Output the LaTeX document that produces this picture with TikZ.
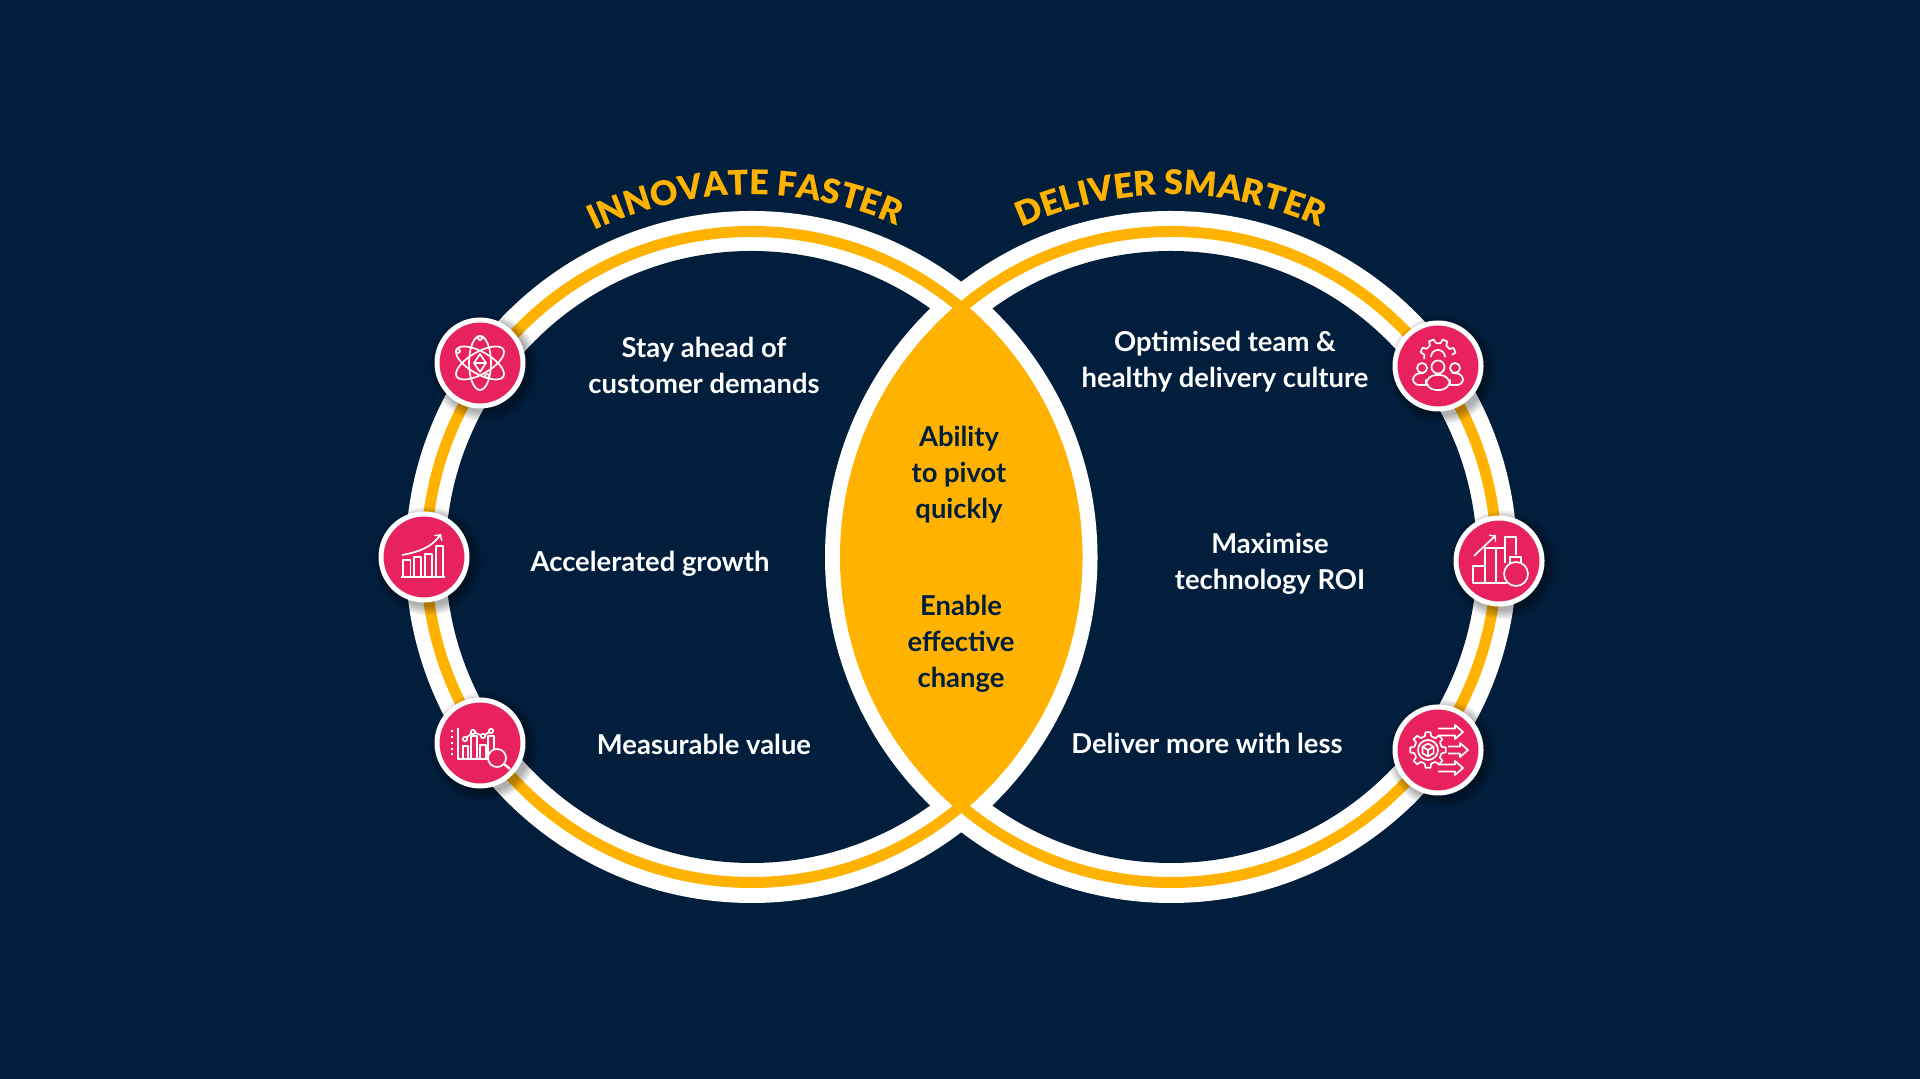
\documentclass[tikz,border=0pt]{standalone}
\usepackage{fontspec}
\usepackage{amsmath}
\usetikzlibrary{positioning,calc,decorations.text}
\setmainfont{Lato}
\newfontfamily\labelfont{Lato Bold}
\newfontfamily\headfont{Lato Black}
\definecolor{navy}{HTML}{011E3C}
\definecolor{gold}{HTML}{FFB200}
\definecolor{rose}{HTML}{E8215F}
\tikzset{
    badge/.style={circle,fill=rose,draw=white,line width=2.5pt,minimum size=43pt},
    caption/.style={text=white,align=center,font=\labelfont\fontsize{13.7}{18}\selectfont},
    lenstext/.style={text=navy,align=center,font=\labelfont\fontsize{13.7}{18}\selectfont},
    icon/.style={white,line width=.85pt,line join=round},
}
\begin{document}
\begin{tikzpicture}[
    x=.5pt,y=.5pt,
    every node/.style={inner sep=0}
]
\fill[navy] (0,0) rectangle (1920,1079);
\coordinate (left) at (751.5,522);
\coordinate (right) at (1171,522);
% rings
\fill[white] (left) circle (346) (right) circle (346);
\fill[navy] (left) circle (306) (right) circle (306);
\begin{scope}
    \clip (left) circle (346);
    \fill[white] (right) circle (346);
\end{scope}
\draw[gold,line width=5.5pt] (left) circle (325.5) (right) circle (325.5);
\begin{scope}
    \clip (left) circle (330.5);
    \fill[gold] (right) circle (330.5);
\end{scope}
% headings
\path[decorate,decoration={text along path,text align=center,
    text={|\color{gold}\headfont\fontsize{17}{20}\selectfont|INNOVATE FASTER}}]
    ($(left)+(138:362)$) arc (138:44:362);
\path[decorate,decoration={text along path,text align=center,
    text={|\color{gold}\headfont\fontsize{17}{20}\selectfont|DELIVER SMARTER}}]
    ($(right)+(137:362)$) arc (137:43:362);
% badges
\foreach \n/\x/\y in {1/480/716,2/424/522,3/480/336,4/1438/713,5/1499/518,6/1438/329}{
    \foreach \r in {46,48,...,54}
        \fill[black,opacity=.07] (\x+4,\y-4) circle (\r);
    \node[badge] (badge\n) at (\x,\y) {};
}
% left labels
\node[caption] (demands) at (704,714) {Stay ahead of\\customer demands};
\node[caption] (growth) at (650,515) {Accelerated growth};
\node[caption] (value) at (704,335) {Measurable value};
% right labels
\node[caption] (culture) at (1225,717) {Optimised team \&\\healthy delivery culture};
\node[caption] (roi) at (1270,515) {Maximise\\technology ROI};
\node[caption] (less) at (1207,336) {Deliver more with less};
% lens
\node[lenstext] (pivot) at (959,604) {Ability\\to pivot\\quickly};
\node[lenstext,below=35.5pt of pivot,xshift=1pt] (change) {Enable\\effective\\change};
% atom
\begin{scope}[shift={(badge1)},icon]
    \draw[rotate=30] (0,0) ellipse (27 and 11);
    \draw[rotate=90] (0,0) ellipse (27 and 11);
    \draw[rotate=150] (0,0) ellipse (27 and 11);
    \draw (0,9) -- (6,0) -- (0,-9) -- (-6,0) -- cycle (-6,0) -- (6,0);
    \foreach \p in {(0,25),(-22,12),(7,-13)}
        \draw[fill=rose] \p circle (2);
\end{scope}
% growth chart
\begin{scope}[shift={(badge2)},icon]
    \draw (-23,-20) -- (21,-20);
    \foreach \a/\b/\t in {-21/-13.5/-3,-10/-3/0,1/8/3,12/19/11}
        \draw (\a,-20) -- (\a,\t) -- (\b,\t) -- (\b,-20);
    \draw[->] (-22,2) .. controls (-5,5) and (8,10) .. (17,23);
\end{scope}
% chart and lens
\begin{scope}[shift={(badge3)},icon]
    \draw (-22,15) -- (-22,-16) -- (12,-16);
    \foreach \y in {12,6,0,-6,-11}
        \draw (-29,\y) -- (-27,\y);
    \foreach \a/\b/\t in {-17/-12/-3,-9/-3/7,0/6/-2,8/14/7}
        \draw (\a,-16) -- (\a,\t) -- (\b,\t) -- (\b,-16);
    \draw (-15,4) -- (-7,11) -- (3,7) -- (11,12);
    \foreach \p in {(-15,4),(-7,11),(3,7),(11,12)}
        \draw[fill=rose] \p circle (2.2);
    \draw[fill=rose] (17,-15) circle (9);
    \draw[line width=1.2pt] (24,-21) -- (30,-26);
\end{scope}
% team
\begin{scope}[shift={(badge4)},icon]
    \foreach \a in {22,67,112,157}
        \draw ($(0,9)+(\a-13:14)$) -- ($(0,9)+(\a-8:18)$) -- ($(0,9)+(\a+8:18)$) -- ($(0,9)+(\a+13:14)$)
            arc (\a+13:\a+32:14);
    \draw (-7,9) arc (180:0:7);
    \draw[fill=rose] (0,-1) circle (6.5) (-16,-2) circle (5) (17,-2) circle (5);
    \draw[rounded corners=3pt] (-12,-19) -- (-25,-19) -- (-25,-8) -- (-14,-7);
    \draw[rounded corners=3pt] (12,-19) -- (25,-19) -- (25,-8) -- (14,-7);
    \draw[fill=rose,rounded corners=5pt] (-12,-24) -- (-12,-9) -- (12,-9) -- (12,-24) -- cycle;
\end{scope}
% bars and bag
\begin{scope}[shift={(badge5)},icon]
    \draw (-26,-22) rectangle (-14,-5);
    \draw (-14,-22) rectangle (-3,13);
    \draw (-3,13) -- (6,13) -- (6,24) -- (17,24) -- (17,6);
    \draw (6,13) -- (6,-2);
    \draw (-3,-22) -- (8,-22);
    \draw[->] (-25,5) -- (-3,26);
    \draw (11,-3) -- (11,4) -- (22,4) -- (22,-3);
    \draw[fill=rose] (17,-13) circle (12);
\end{scope}
% gear and arrows
\begin{scope}[shift={(badge6)},icon]
    \foreach \a in {0,45,...,315}
        \draw ($(-10,0)+(\a-13:14)$) -- ($(-10,0)+(\a-8:18)$) -- ($(-10,0)+(\a+8:18)$) -- ($(-10,0)+(\a+13:14)$)
            arc (\a+13:\a+32:14);
    \draw (-10,0) circle (10);
    \draw (-10,6.5) -- (-4.4,3.2) -- (-4.4,-3.2) -- (-10,-6.5) -- (-15.6,-3.2) -- (-15.6,3.2) -- cycle;
    \draw (-15.6,3.2) -- (-10,0) -- (-4.4,3.2) (-10,0) -- (-10,-6.5);
    \foreach \a/\b/\y in {0/25/18,10/30/0,0/25/-18}
        \draw[fill=rose] (\a,\y+3.5) -- (\b-8,\y+3.5) -- (\b-8,\y+7) -- (\b,\y) -- (\b-8,\y-7) -- (\b-8,\y-3.5) -- (\a,\y-3.5);
\end{scope}
\end{tikzpicture}
\end{document}
